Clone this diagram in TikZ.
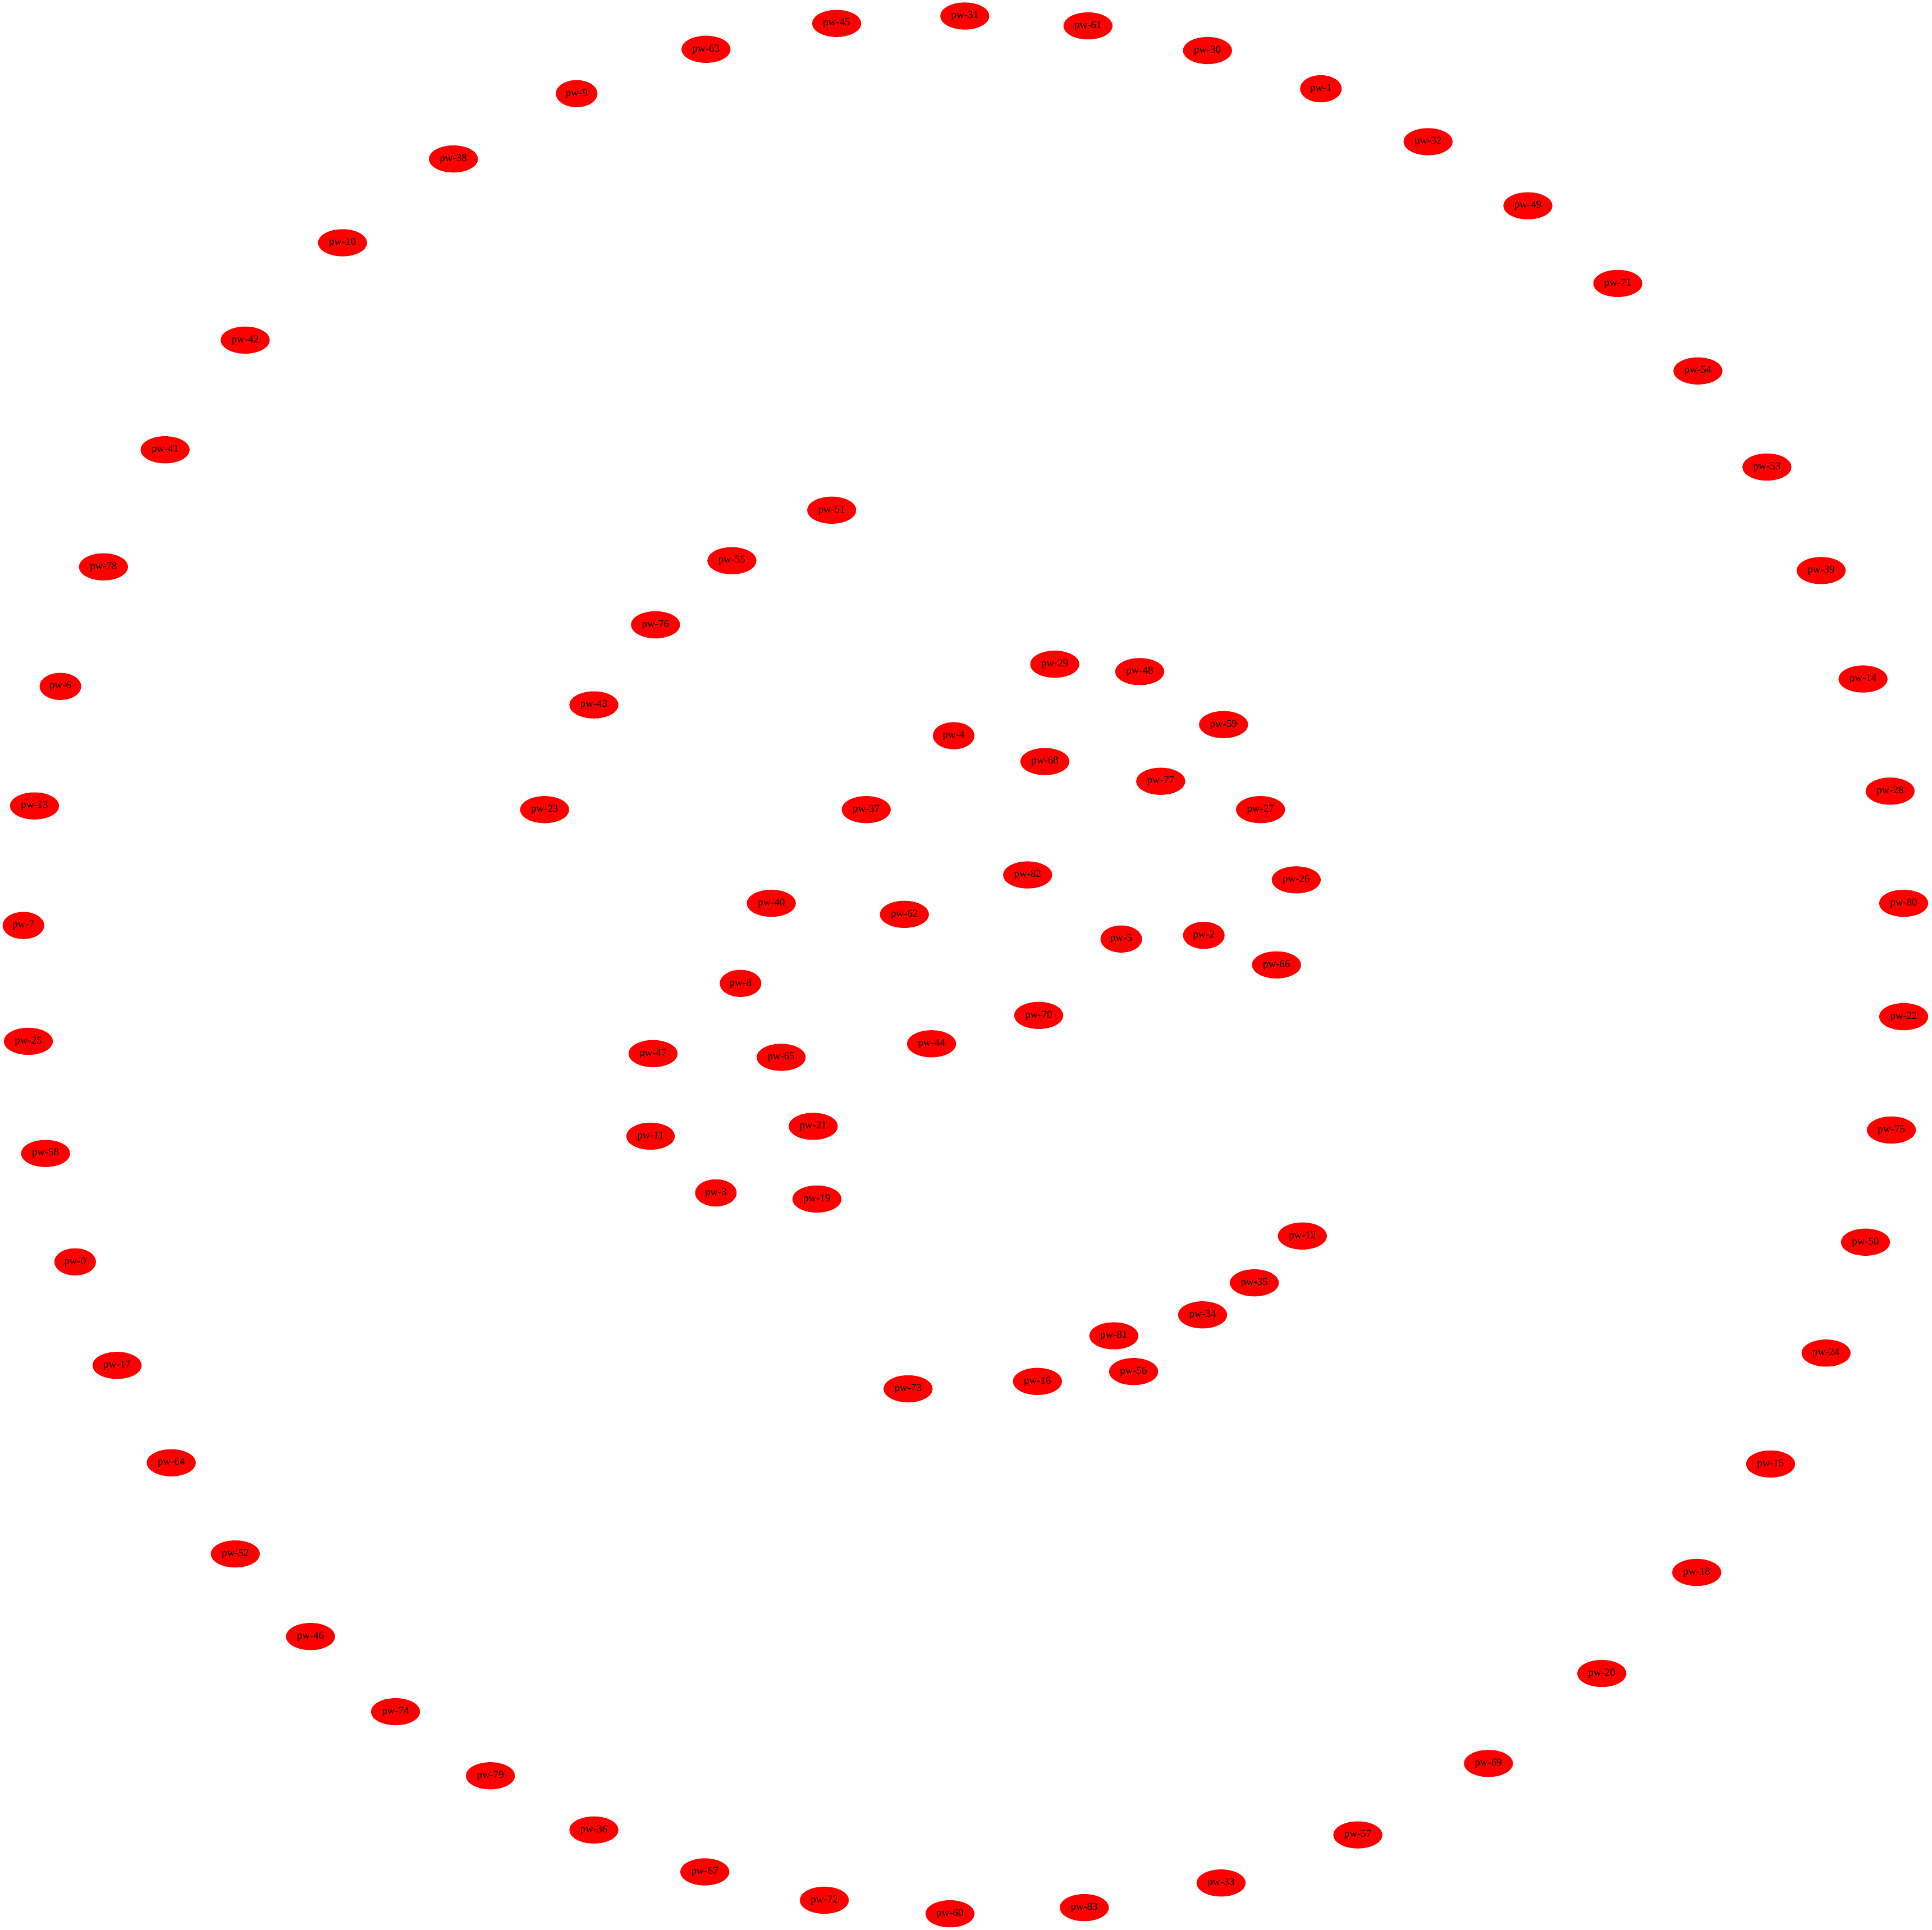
\documentclass[tikz,border=0pt]{standalone}
\usepackage{fontspec}
\setmainfont{Liberation Serif}
\usetikzlibrary{shapes.geometric}
\begin{document}
\begin{tikzpicture}[x=1pt,y=-1pt]
\tikzset{pw/.style={ellipse,fill=red,inner xsep=3.1pt,inner ysep=0pt,
         minimum height=22pt,font=\fontsize{8.6}{10}\selectfont}}
\useasboundingbox (0,0) rectangle (1568,1566);

% outer ring
\foreach \n/\x/\y in {45/679/19, 31/783/13, 61/883/21, 30/980/41, 1/1072/72,
    32/1159/115, 49/1240/167, 71/1313/230, 54/1378/301, 53/1434/379,
    39/1478/463, 14/1512/551, 28/1534/642, 80/1545/733, 22/1545/825,
    75/1535/917, 50/1514/1008, 24/1482/1098, 15/1437/1188, 18/1377/1276,
    20/1300/1358, 69/1208/1431, 57/1102/1489, 33/991/1528, 83/880/1548,
    60/771/1553, 72/669/1542, 67/572/1519, 36/482/1485, 79/398/1441,
    74/321/1389, 46/252/1328, 52/191/1261, 64/139/1187, 17/95/1108,
    0/61/1024, 58/37/936, 25/23/845, 7/19/751, 13/28/654, 6/49/557,
    78/84/460, 41/134/365, 42/199/276, 10/278/197, 38/368/129, 9/468/76,
    63/573/40}
    \node[pw] (pw\n) at (\x,\y) {pw-\n};

% middle arcs
\foreach \n/\x/\y in {51/675/414, 55/594/455, 76/532/507, 43/482/572,
    23/442/657, 12/1057/1003, 35/1018/1041, 34/976/1067, 81/904/1084,
    56/920/1113, 16/842/1121, 73/737/1127}
    \node[pw] (pw\n) at (\x,\y) {pw-\n};

% inner cluster
\foreach \n/\x/\y in {29/856/539, 48/925/545, 59/993/588, 4/774/597,
    68/848/618, 77/942/634, 27/1023/657, 37/703/657, 26/1052/714,
    82/834/710, 40/626/733, 62/734/742, 5/910/762, 2/977/759, 66/1036/783,
    8/601/798, 70/843/824, 44/756/847, 47/530/855, 65/634/858, 21/660/914,
    11/528/922, 3/581/968, 19/663/973}
    \node[pw] (pw\n) at (\x,\y) {pw-\n};
\end{tikzpicture}
\end{document}
